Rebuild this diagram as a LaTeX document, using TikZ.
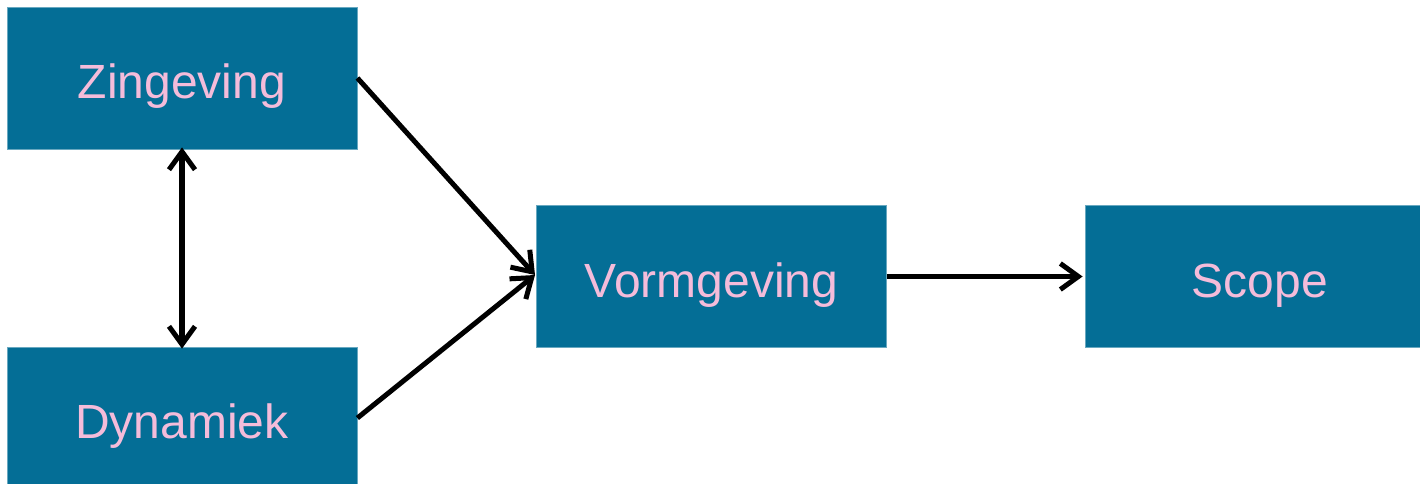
\documentclass[tikz,border=0pt]{standalone}
\usepackage{fontspec}
\setmainfont{Liberation Sans}
\usetikzlibrary{arrows.meta}
\definecolor{boxblue}{HTML}{046E96}
\definecolor{txtpink}{HTML}{F4BCDA}
\begin{document}
\begin{tikzpicture}[x=1pt,y=-1pt,
  blk/.style={fill=boxblue,draw=boxblue!60!white,line width=0.8pt,minimum width=350pt,minimum height=142pt,inner sep=0pt,text height=41pt,text depth=0pt,text=txtpink,font=\fontsize{48}{56}\selectfont},
  tip/.style={Straight Barb[length=18pt,width=26pt,line width=5pt]},
  conn/.style={line width=5pt,-{Straight Barb[length=18pt,width=26pt,line width=5pt]}},
  dconn/.style={line width=5.5pt,{Straight Barb[length=18pt,width=26pt,line width=5pt]}-{Straight Barb[length=18pt,width=26pt,line width=5pt]}}]
\useasboundingbox (0,0) rectangle (1420,484);
\begin{scope}
\clip (0,0) rectangle (1420,484);
\node[blk] (z) at (182,78) {Zingeving};
\node[blk] (d) at (182,418) {Dynamiek};
\node[blk] (v) at (711.5,276.5) {Vormgeving};
\node[blk] (s) at (1260,276.5) {Scope};
\end{scope}
\coordinate (vin) at (535,275);
\draw[conn] (z.east) -- (vin);
\draw[conn] (d.east) -- (vin);
\draw[conn] (v.east) -- ([xshift=-2pt]s.west);
\draw[dconn] ([yshift=2pt]z.south) -- ([yshift=-2pt]d.north);
\end{tikzpicture}
\end{document}
